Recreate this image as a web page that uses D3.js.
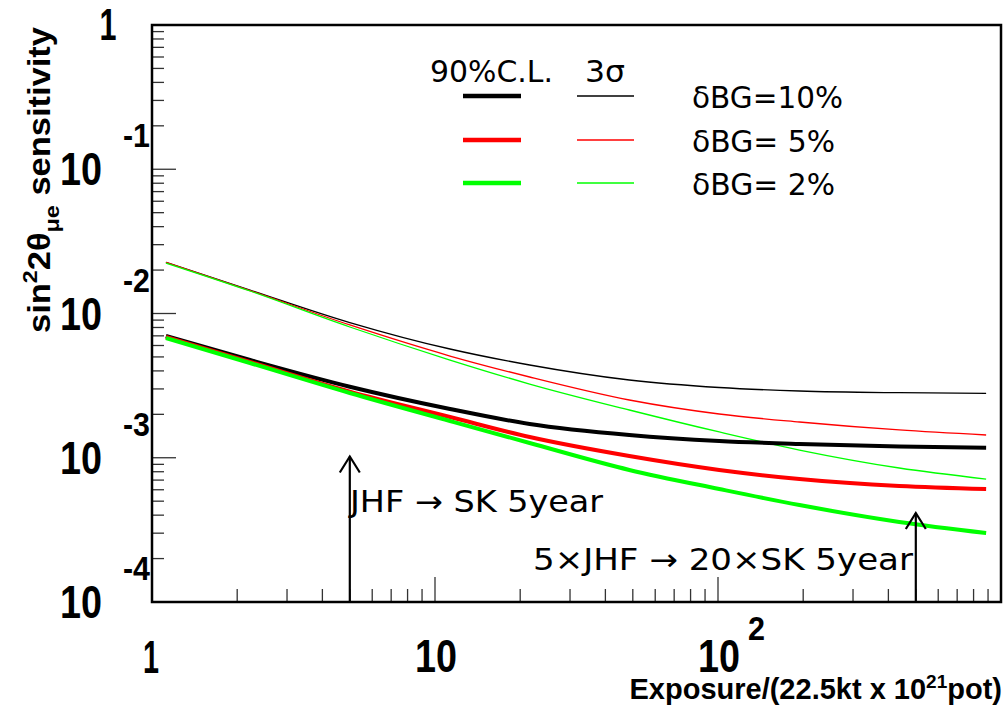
<!DOCTYPE html>
<html>
<head>
<meta charset="utf-8">
<script src="https://cdn.jsdelivr.net/npm/d3@7"></script>
<style>
  body { margin: 0; background: #fff; }
  svg { display: block; }
</style>
</head>
<body>
<div id="chart"></div>
<script>
// Data

var exposure = [1.12, 2.22, 5.0, 11.3, 21.6, 48.6, 101, 194, 437, 886];

var cl90_10 = [0.006982, 0.004760, 0.003108, 0.002178, 0.001714, 0.001438, 0.001306, 0.001245, 0.001197, 0.001174];
var cl90_5  = [0.006871, 0.004611, 0.002870, 0.001916, 0.001392, 0.001028, 0.000823, 0.000712, 0.000637, 0.000607];
var cl90_2  = [0.006763, 0.004537, 0.002812, 0.001798, 0.001265, 0.000823, 0.000607, 0.000470, 0.000359, 0.000301];

var sig3_10 = [0.02264, 0.01455, 0.008661, 0.005674, 0.004395, 0.003459, 0.003069, 0.002902, 0.002825, 0.002798];
var sig3_5  = [0.02264, 0.01443, 0.008324, 0.005074, 0.003629, 0.002514, 0.002011, 0.001769, 0.001558, 0.001438];
var sig3_2  = [0.02239, 0.01432, 0.008062, 0.004760, 0.003245, 0.002143, 0.001509, 0.001131, 0.000849, 0.000712];

var bgLabels = ["\u03b4BG=10%", "\u03b4BG= 5%", "\u03b4BG= 2%"];
var bgColors = ["#000000", "#ff0000", "#00ff00"];

var xLabelExp = [0, 1, 2];
var yLabelExp = [0, -1, -2, -3, -4];

// annotation arrows: exposure and tip height
var arrowX = [5, 500];
var arrowTip = [0.00102, 0.000414];
var arrowText = ["JHF \u2192 SK 5year", "5\u00d7JHF \u2192 20\u00d7SK 5year"];

// Layout

var W = 1005, H = 710;
var mLeft = 152, mRight = 1001, mTop = 25, mBottom = 602;

var svg = d3.select("#chart").append("svg")
  .attr("width", W).attr("height", H);

var x = d3.scaleLog().domain([1, 1000]).range([mLeft, mRight]);
var y = d3.scaleLog().domain([1e-4, 1]).range([mBottom, mTop]);

var isMajor = function(v){ return Math.abs(Math.log10(v) - Math.round(Math.log10(v))) < 1e-6; };

// ticks

svg.append("g").selectAll("line").data(x.ticks()).enter().append("line")
  .attr("x1", function(d){ return x(d); }).attr("x2", function(d){ return x(d); })
  .attr("y1", mBottom).attr("y2", function(d){ return mBottom - (isMajor(d) ? 25 : 13); })
  .style("stroke", "#333").style("stroke-width", 1.3);

svg.append("g").selectAll("line").data(y.ticks()).enter().append("line")
  .attr("y1", function(d){ return y(d); }).attr("y2", function(d){ return y(d); })
  .attr("x1", mLeft).attr("x2", function(d){ return mLeft + (isMajor(d) ? 24 : 12); })
  .style("stroke", "#333").style("stroke-width", 1.3);

// curves

var line = d3.line()
  .x(function(d){ return x(d[0]); })
  .y(function(d){ return y(d[1]); })
  .curve(d3.curveMonotoneX);

var series = [
  {v: sig3_10, c: bgColors[0], w: 1.3},
  {v: sig3_5,  c: bgColors[1], w: 1.3},
  {v: sig3_2,  c: bgColors[2], w: 1.3},
  {v: cl90_10, c: bgColors[0], w: 4},
  {v: cl90_5,  c: bgColors[1], w: 4},
  {v: cl90_2,  c: bgColors[2], w: 4}
];

var plot = svg.append("g");
series.forEach(function(s){
  plot.append("path")
    .datum(exposure.map(function(e, i){ return [e, s.v[i]]; }))
    .attr("d", line)
    .style("fill", "none").style("stroke", s.c).style("stroke-width", s.w)
    .style("stroke-linejoin", "round");
});

// frame

svg.append("rect")
  .attr("x", mLeft).attr("y", mTop).attr("width", mRight - mLeft).attr("height", mBottom - mTop)
  .style("fill", "none").style("stroke", "black").style("stroke-width", 2.5);

// axis labels

var bold = "'Liberation Sans', Arial, sans-serif";
var thin = "'DejaVu Sans', sans-serif";

xLabelExp.forEach(function(e){
  var cx = x(Math.pow(10, e));
  if (e == 0) {
    svg.append("text").attr("x", cx - 1).attr("y", 673).attr("text-anchor", "middle")
      .style("font-family", bold).style("font-weight", "bold").style("font-size", "46px")
      .attr("textLength", 16).attr("lengthAdjust", "spacingAndGlyphs").text("1");
  } else {
    svg.append("text").attr("x", cx - 20).attr("y", 672)
      .style("font-family", bold).style("font-weight", "bold").style("font-size", "46px")
      .attr("textLength", 42).attr("lengthAdjust", "spacingAndGlyphs").text("10");
    if (e > 1) {
      svg.append("text").attr("x", cx + 30).attr("y", 640)
        .style("font-family", bold).style("font-weight", "bold").style("font-size", "34px")
        .attr("textLength", 17).attr("lengthAdjust", "spacingAndGlyphs").text(e);
    }
  }
});

yLabelExp.forEach(function(e){
  var cy = y(Math.pow(10, e));
  if (e == 0) {
    svg.append("text").attr("x", 108).attr("y", cy + 15).attr("text-anchor", "middle")
      .style("font-family", bold).style("font-weight", "bold").style("font-size", "44px")
      .attr("textLength", 17).attr("lengthAdjust", "spacingAndGlyphs").text("1");
  } else {
    svg.append("text").attr("x", 60).attr("y", cy + 16)
      .style("font-family", bold).style("font-weight", "bold").style("font-size", "46px")
      .attr("textLength", 42).attr("lengthAdjust", "spacingAndGlyphs").text("10");
    svg.append("text").attr("x", 123).attr("y", cy - 22)
      .style("font-family", bold).style("font-weight", "bold").style("font-size", "34px")
      .attr("textLength", 27).attr("lengthAdjust", "spacingAndGlyphs").text(e);
  }
});

// axis titles

var xt = svg.append("text").attr("x", 1002).attr("y", 699).attr("text-anchor", "end")
  .style("font-family", bold).style("font-weight", "bold").style("font-size", "29px");
xt.append("tspan").text("Exposure/(22.5kt x 10");
xt.append("tspan").attr("dy", -11).style("font-size", "19px").text("21");
xt.append("tspan").attr("dy", 11).text("pot)");

var yt = svg.append("text").attr("transform", "translate(50,333)rotate(-90)")
  .style("font-family", bold).style("font-weight", "bold").style("font-size", "31px")
  .attr("textLength", 306).attr("lengthAdjust", "spacingAndGlyphs");
yt.append("tspan").text("sin");
yt.append("tspan").attr("dy", -13).style("font-size", "21px").text("2");
yt.append("tspan").attr("dy", 13).text("2\u03b8");
yt.append("tspan").attr("dy", 9).style("font-size", "21px").text("\u03bce");
yt.append("tspan").attr("dy", -9).text(" sensitivity");

// legend

svg.append("text").attr("x", 430).attr("y", 82)
  .style("font-family", thin).style("font-size", "30px")
  .attr("textLength", 123).attr("lengthAdjust", "spacingAndGlyphs").text("90%C.L.");
svg.append("text").attr("x", 585).attr("y", 82)
  .style("font-family", thin).style("font-size", "30px")
  .attr("textLength", 40).attr("lengthAdjust", "spacingAndGlyphs").text("3\u03c3");

var rowY = [96, 140, 183];
var labelLen = [151, 143, 143];
bgLabels.forEach(function(lab, i){
  svg.append("line").attr("x1", 463).attr("x2", 521).attr("y1", rowY[i]).attr("y2", rowY[i])
    .style("stroke", bgColors[i]).style("stroke-width", 4.5);
  svg.append("line").attr("x1", 577).attr("x2", 634).attr("y1", rowY[i]).attr("y2", rowY[i])
    .style("stroke", bgColors[i]).style("stroke-width", 1.5);
  svg.append("text").attr("x", 692).attr("y", rowY[i] + 12)
    .style("font-family", thin).style("font-size", "30px")
    .attr("textLength", labelLen[i]).attr("lengthAdjust", "spacingAndGlyphs").text(lab);
});

// arrows

arrowX.forEach(function(a, i){
  var ax = x(a), ay = y(arrowTip[i]);
  svg.append("line").attr("x1", ax).attr("x2", ax).attr("y1", mBottom).attr("y2", ay)
    .style("stroke", "black").style("stroke-width", 2.2);
  svg.append("path")
    .attr("d", "M" + (ax - 10) + "," + (ay + 16) + "L" + ax + "," + ay + "L" + (ax + 10) + "," + (ay + 16))
    .style("fill", "none").style("stroke", "black").style("stroke-width", 2.2);
});

svg.append("text").attr("x", 350).attr("y", 512)
  .style("font-family", thin).style("font-size", "30px")
  .attr("textLength", 253).attr("lengthAdjust", "spacingAndGlyphs").text(arrowText[0]);
svg.append("text").attr("x", 533).attr("y", 570)
  .style("font-family", thin).style("font-size", "30px")
  .attr("textLength", 380).attr("lengthAdjust", "spacingAndGlyphs").text(arrowText[1]);
</script>
</body>
</html>
